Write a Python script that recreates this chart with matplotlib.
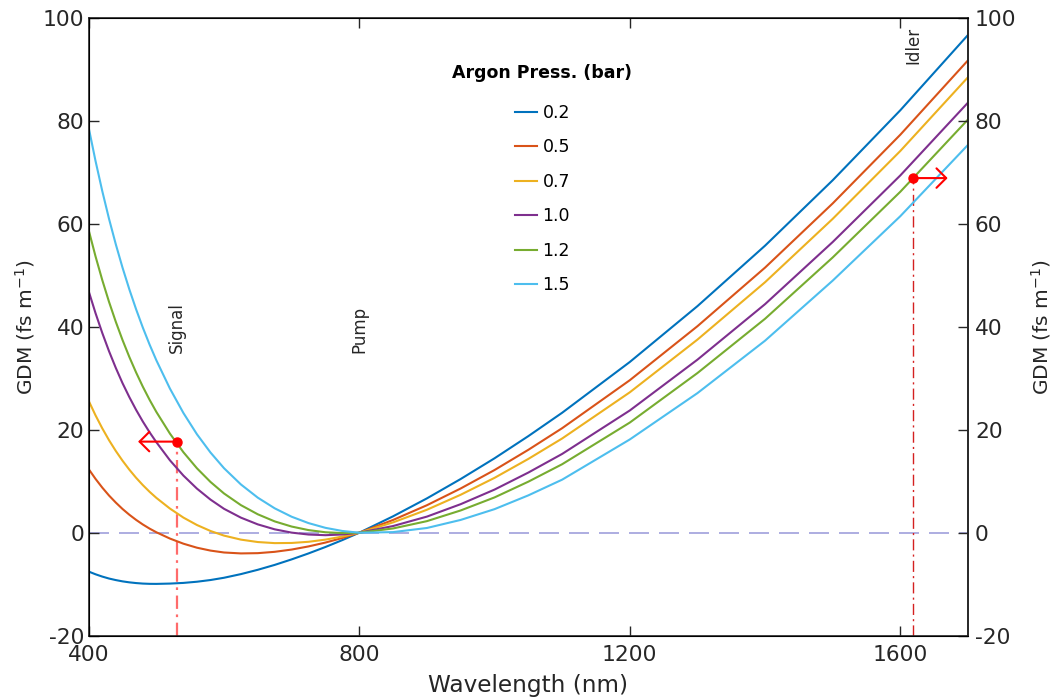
import matplotlib
matplotlib.use("Agg")
import matplotlib.pyplot as plt

plt.rcParams["font.family"] = ["DejaVu Sans"]
plt.rcParams["mathtext.fontset"] = "dejavusans"
plt.rcParams["axes.unicode_minus"] = False

# wavelength grid (nm) and GDM curves (fs/m)
wavelength = [400, 410, 420, 430, 440, 450, 460, 470, 480, 490, 500, 520, 540, 560, 580, 600,
              625, 650, 675, 700, 725, 750, 775, 800, 850, 900, 950, 1000, 1050, 1100,
              1200, 1300, 1400, 1500, 1600, 1700]
pressures = ["0.2", "0.5", "0.7", "1.0", "1.2", "1.5"]
gdm_02 = [-7.55, -8.07, -8.52, -8.90, -9.20, -9.45, -9.64, -9.78, -9.88, -9.93, -9.94, -9.88,
          -9.75, -9.52, -9.19, -8.75, -8.04, -7.20, -6.25, -5.18, -4.02, -2.77, -1.43, 0.0,
          3.19, 6.67, 10.44, 14.46, 18.77, 23.31, 33.17, 44.02, 55.77, 68.48, 82.08, 96.70]
gdm_05 = [12.35, 10.47, 8.77, 7.23, 5.86, 4.61, 3.50, 2.50, 1.60, 0.80, 0.09, -1.13,
          -2.13, -2.91, -3.47, -3.84, -4.02, -3.97, -3.71, -3.27, -2.66, -1.91, -1.02, 0.0,
          2.48, 5.34, 8.60, 12.18, 16.11, 20.31, 29.63, 40.12, 51.51, 63.98, 77.33, 91.77]
gdm_07 = [25.61, 22.82, 20.29, 17.98, 15.89, 13.99, 12.26, 10.68, 9.25, 7.95, 6.77, 4.70,
          2.94, 1.50, 0.34, -0.56, -1.34, -1.81, -2.02, -1.99, -1.76, -1.34, -0.75, 0.0,
          2.01, 4.46, 7.38, 10.66, 14.34, 18.31, 27.28, 37.52, 48.67, 60.98, 74.17, 88.49]
gdm_10 = [46.90, 42.68, 38.82, 35.27, 32.03, 29.05, 26.36, 23.88, 21.60, 19.51, 17.59, 14.08,
          11.10, 8.57, 6.44, 4.65, 2.93, 1.62, 0.66, 0.02, -0.35, -0.48, -0.34, 0.0,
          1.30, 3.13, 5.55, 8.38, 11.69, 15.31, 23.75, 33.62, 44.41, 56.48, 69.42, 83.56]
gdm_12 = [58.76, 53.72, 49.10, 44.86, 40.99, 37.43, 34.16, 31.15, 28.37, 25.82, 23.47, 19.27,
          15.64, 12.52, 9.87, 7.63, 5.36, 3.58, 2.20, 1.20, 0.51, 0.09, -0.07, 0.0,
          0.83, 2.25, 4.33, 6.86, 9.92, 13.31, 21.40, 31.02, 41.57, 53.48, 66.25, 80.28]
gdm_15 = [78.66, 72.26, 66.39, 60.99, 56.05, 51.49, 47.30, 43.43, 39.85, 36.55, 33.50, 28.02,
          23.26, 19.13, 15.59, 12.54, 9.38, 6.81, 4.74, 3.11, 1.87, 0.95, 0.34, 0.0,
          0.12, 0.92, 2.49, 4.58, 7.26, 10.31, 18.12, 27.12, 37.31, 48.98, 61.50, 75.35]
curves = [gdm_02, gdm_05, gdm_07, gdm_10, gdm_12, gdm_15]
colors = ["#0072BD", "#D95319", "#EDB120", "#7E2F8E", "#77AC30", "#4DBEEE"]

# phase-matching points (1.2 bar)
signal_wl, signal_gdm, signal_arrow_to = 530, 17.7, 473
idler_wl, idler_gdm, idler_arrow_to = 1619, 68.9, 1670
label_texts = ["Signal", "Pump", "Idler"]
label_wl = [531, 800, 1620]
label_y = [35, 35, 91]

fs_tick = 15.7
dark = "#262626"

fig = plt.figure(figsize=(10.55, 6.98), dpi=100)
ax = fig.add_axes([0.0841, 0.0893, 0.9175 - 0.0841, 0.9742 - 0.0893])

for y, c, p in zip(curves, colors, pressures):
    ax.plot(wavelength, y, color=c, lw=1.5, label=p)

ax.axhline(0, color="#9f9fdc", lw=1.2, dashes=(12, 6), zorder=1)

# signal / idler markers
ax.plot([signal_wl, signal_wl], [-20, signal_gdm], color="#ff6b6b", lw=1.6,
        dashes=(6, 2.5, 1.2, 2.5), zorder=1)
ax.plot([idler_wl, idler_wl], [-20, idler_gdm], color="#d42020", lw=1.0,
        dashes=(8, 3, 1.5, 3), zorder=1)
ax.plot([signal_wl, idler_wl], [signal_gdm, idler_gdm], "o", color="red",
        ms=6.5, zorder=5, label="_nolegend_")
arrow = dict(arrowstyle="->,head_length=0.35,head_width=0.35", color="red",
             lw=1.5, mutation_scale=20, shrinkA=0, shrinkB=0)
ax.annotate("", xy=(signal_arrow_to, signal_gdm), xytext=(signal_wl, signal_gdm),
            arrowprops=arrow)
ax.annotate("", xy=(idler_arrow_to, idler_gdm), xytext=(idler_wl, idler_gdm),
            arrowprops=arrow)

for t, xw, yv in zip(label_texts, label_wl, label_y):
    ax.text(xw, yv, t, rotation=90, ha="center", va="bottom", fontsize=12,
            color=dark)

ax.set_xlim(400, 1700)
ax.set_ylim(-20, 100)
ax.set_xticks([400, 800, 1200, 1600])
ax.set_yticks(range(-20, 101, 20))
ax.tick_params(direction="in", length=7, width=1, colors=dark, labelsize=fs_tick,
               top=True, labelcolor=dark)
ax.tick_params(axis="x", pad=7)
ax.tick_params(axis="y", pad=3)
for s in ax.spines.values():
    s.set_color(dark)
    s.set_linewidth(1.2)
ax.set_xlabel("Wavelength (nm)", fontsize=16.7, color=dark, labelpad=6)
ax.set_ylabel("GDM (fs m$^{-1}$)", fontsize=14.5, color=dark, labelpad=4)

ax2 = ax.twinx()
ax2.set_ylim(-20, 100)
ax2.set_yticks(range(-20, 101, 20))
ax2.tick_params(direction="in", length=7, width=1, colors=dark, labelsize=fs_tick, pad=5)
ax2.spines["right"].set_color(dark)
ax2.spines["right"].set_linewidth(1.2)
ax2.set_ylabel("GDM (fs m$^{-1}$)", fontsize=14.5, color=dark, labelpad=9)

leg = ax.legend(title="Argon Press. (bar)", loc="upper center",
                bbox_to_anchor=(0.514, 1 - 48 / 698), bbox_transform=fig.transFigure,
                frameon=False, fontsize=12.5,
                title_fontproperties={"weight": "bold", "size": 12.5},
                handlelength=1.3, handletextpad=0.3, labelspacing=0.95)
leg._legend_box.sep = 16

fig.savefig("out.png", dpi=100)
